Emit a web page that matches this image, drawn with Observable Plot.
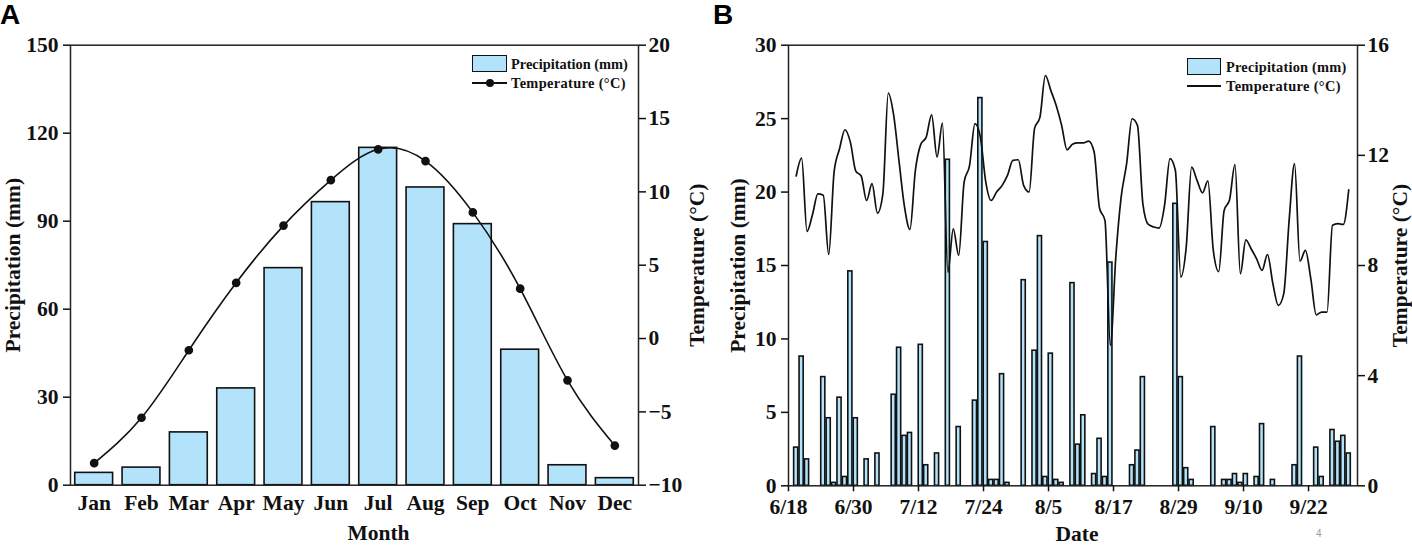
<!DOCTYPE html>
<html>
<head>
<meta charset="utf-8">
<script src="https://cdn.jsdelivr.net/npm/d3@7"></script>
<script src="https://cdn.jsdelivr.net/npm/@observablehq/plot@0.6"></script>
<style>
  html, body { margin: 0; padding: 0; background: #fff; }
  #wrap { position: relative; width: 1412px; height: 545px; overflow: hidden; font-family: "Liberation Serif", serif; }
  #wrap svg { position: absolute; top: 0; overflow: visible; }
  .tag { position: absolute; font: bold 28px "Liberation Sans", Arial, sans-serif; color: #000; line-height: 1; }
  .lg { position: absolute; font: bold 14.4px "Liberation Serif", serif; color: #111; white-space: nowrap; line-height: 1; }
  .sw { position: absolute; background: #b2e3fb; border: 1.6px solid #111; box-sizing: border-box; }
  .ln { position: absolute; height: 1.6px; background: #111; }
  .dt { position: absolute; width: 8px; height: 8px; border-radius: 50%; background: #111; }
  .pg { position: absolute; font: 10px "Liberation Sans", sans-serif; color: #999; }
</style>
</head>
<body>
<div id="wrap"></div>
<script>
const months = ["Jan","Feb","Mar","Apr","May","Jun","Jul","Aug","Sep","Oct","Nov","Dec"];
const monthlyPrecip = [4.2,6,18,33,74,96.5,115,101.5,89,46.2,6.8,2.4];
const monthlyTemp = [-8.5,-5.4,-0.8,3.8,7.7,10.8,12.9,12.1,8.6,3.4,-2.85,-7.3];
const precipTicksA = [0,30,60,90,120,150];
const tempTicksA = [-10,-5,0,5,10,15,20];

const dailyPrecip = [2.6,8.8,1.8,0,0,7.4,4.6,0.2,6,0.6,14.6,4.6,0,1.8,0,2.2,0,0,6.2,9.4,3.4,3.6,0,9.6,1.4,0,2.2,0,22.2,0,4,0,0,5.8,26.4,16.6,0.4,0.4,7.6,0.2,0,0,14,0,9.2,17,0.6,9,0.4,0.2,0,13.8,2.8,4.8,0,0.8,3.2,0.6,15.2,0,0,0,1.4,2.4,7.4,0,0,0,0,0,19.2,7.4,1.2,0.4,0,0,0,4,0,0.4,0.4,0.8,0.2,0.8,0,0.6,4.2,0,0.4,0,0,0,1.4,8.8,0,0,2.6,0.6,0,3.8,3,3.4,2.2];
const dailyTemp = [11.25,11.9,9.24,9.84,10.6,10.55,8.4,11.4,12.24,12.93,12.48,11.43,11.25,10.36,10.97,9.9,10.6,14.26,13.45,11.76,10.12,9.31,11.45,12.4,12.66,13.47,11.94,13.17,7.76,9.33,8.37,11.03,11.63,13.15,12.66,11.03,10.36,10.67,10.9,11.27,11.82,11.84,10.9,10.67,12.97,13.39,14.9,14.36,13.81,13.09,12.2,12.4,12.45,12.45,12.52,12.12,10.08,9.64,5.1,8.3,10.5,11.7,13.33,13.09,10.24,9.49,9.4,9.36,10.18,11.88,11.45,7.58,8.67,11.57,11.09,10.64,11.07,8.55,7.78,10,10.39,11.66,7.7,8.93,8.6,8.24,7.82,8.4,7.34,6.55,6.97,9.64,11.7,8.16,8.55,7.52,6.21,6.31,6.31,9.46,9.52,9.49,10.75];
const dateLabels = ["6/18","6/30","7/12","7/24","8/5","8/17","8/29","9/10","9/22"];
const dateStep = 12;
const precipTicksB = [0,5,10,15,20,25,30];
const tempTicksB = [0,4,8,12,16];

const BLUE = "#b2e3fb", INK = "#111";
const axisFont = {fontSize: 18, fontWeight: "bold", fontFamily: "Liberation Serif"};
const titleFont = {fontSize: 21.5, fontWeight: "bold", fontFamily: "Liberation Serif", fill: INK};
const style = {fontFamily: "Liberation Serif", color: INK, background: "transparent", overflow: "visible"};
const titled = svg => {
  svg.querySelectorAll('g[aria-label$="axis label"] text, g[aria-label$="label"] text').forEach(t => {
    t.setAttribute("font-size", 21.5);
  });
  return svg;
};

const tA = t => (t + 10) * 5;
const unA = y => y / 5 - 10;
const rowsA = months.map((m, i) => ({m, p: monthlyPrecip[i], t: tA(monthlyTemp[i])}));

const plotA = Plot.plot({
  width: 700, height: 545,
  marginLeft: 70, marginRight: 62, marginTop: 44.7, marginBottom: 60.3,
  style,
  x: {type: "band", domain: months, paddingInner: 0.2, paddingOuter: 0.1, round: false},
  y: {domain: [0, 150]},
  marks: [
    Plot.barY(rowsA, {x: "m", y: "p", fill: BLUE, stroke: INK, strokeWidth: 1.6}),
    Plot.frame({stroke: "#222", strokeWidth: 1.5}),
    Plot.line(rowsA, {x: "m", y: "t", curve: "natural", stroke: INK, strokeWidth: 1.6}),
    Plot.dot(rowsA, {x: "m", y: "t", r: 3.6, fill: INK, stroke: INK}),
    Plot.axisX({anchor: "bottom", tickSize: 0, tickPadding: 10, label: null, ...axisFont}),
    Plot.text(["Month"], {frameAnchor: "bottom", dx: 24, dy: 55, ...titleFont}),
    Plot.axisY({anchor: "left", ticks: precipTicksA, tickSize: 7, tickPadding: 5, label: "Precipitation (mm)", labelAnchor: "center", labelArrow: "none", labelOffset: 66, strokeWidth: 1.5, ...axisFont}),
    Plot.axisY({anchor: "right", ticks: tempTicksA.map(tA), tickFormat: y => String(unA(y)).replace("-", "\u2212"), tickSize: 7, tickPadding: 3, label: "Temperature (\u00b0C)", labelAnchor: "center", labelArrow: "none", labelOffset: 65, strokeWidth: 1.5, ...axisFont})
  ]
});

const tB = t => t * 30 / 16;
const unB = y => Math.round(y * 16 / 30);
const rowsB = dailyPrecip.map((p, d) => ({d, p, t: tB(dailyTemp[d])}));
const firstTick = -1.42;

const plotB = Plot.plot({
  width: 712, height: 545,
  marginLeft: 88, marginRight: 55, marginTop: 44.7, marginBottom: 59.7,
  style,
  x: {type: "linear", domain: [firstTick, firstTick + 105.04]},
  y: {domain: [0, 30]},
  marks: [
    Plot.rectY(rowsB.filter(r => r.p > 0), {x1: r => r.d - 0.38, x2: r => r.d + 0.38, y: "p", fill: BLUE, stroke: INK, strokeWidth: 1.6}),
    Plot.frame({stroke: "#222", strokeWidth: 1.5}),
    Plot.line(rowsB, {x: "d", y: "t", curve: "monotone-x", stroke: INK, strokeWidth: 1.7}),
    Plot.axisX({anchor: "bottom", ticks: dateLabels.map((_, i) => firstTick + i * dateStep), tickFormat: (v, i) => dateLabels[i], tickSize: 6, tickPadding: 7, label: null, strokeWidth: 1.5, ...axisFont}),
    Plot.text(["Date"], {frameAnchor: "bottom", dx: 4, dy: 55.5, ...titleFont}),
    Plot.axisY({anchor: "left", ticks: precipTicksB, tickSize: 7, tickPadding: 5, label: "Precipitation (mm)", labelAnchor: "center", labelArrow: "none", labelOffset: 59, strokeWidth: 1.5, ...axisFont}),
    Plot.axisY({anchor: "right", ticks: tempTicksB.map(tB), tickFormat: unB, tickSize: 7, tickPadding: 3, label: "Temperature (\u00b0C)", labelAnchor: "center", labelArrow: "none", labelOffset: 49, strokeWidth: 1.5, ...axisFont})
  ]
});

const wrap = document.getElementById("wrap");
plotA.style.left = "0px";
plotB.style.left = "700px";
wrap.append(titled(plotA), titled(plotB));

const add = (cls, css, text) => {
  const el = document.createElement("div");
  el.className = cls;
  el.style.cssText = css;
  if (text) el.textContent = text;
  wrap.append(el);
};
add("tag", "left:0;top:1px", "A");
add("tag", "left:713px;top:1px", "B");
add("sw", "left:472px;top:55px;width:35px;height:17px");
add("lg", "left:511px;top:57px", "Precipitation (mm)");
add("ln", "left:472px;top:82.2px;width:35px");
add("dt", "left:486px;top:79px");
add("lg", "left:511px;top:76px;letter-spacing:.35px", "Temperature (\u00b0C)");
add("sw", "left:1187px;top:58px;width:34px;height:17px");
add("lg", "left:1226px;top:60px;letter-spacing:.2px", "Precipitation (mm)");
add("ln", "left:1187px;top:85.3px;width:34px");
add("lg", "left:1226px;top:79px;letter-spacing:.35px", "Temperature (\u00b0C)");
add("pg", "left:1316px;top:528px", "4");
</script>
</body>
</html>
